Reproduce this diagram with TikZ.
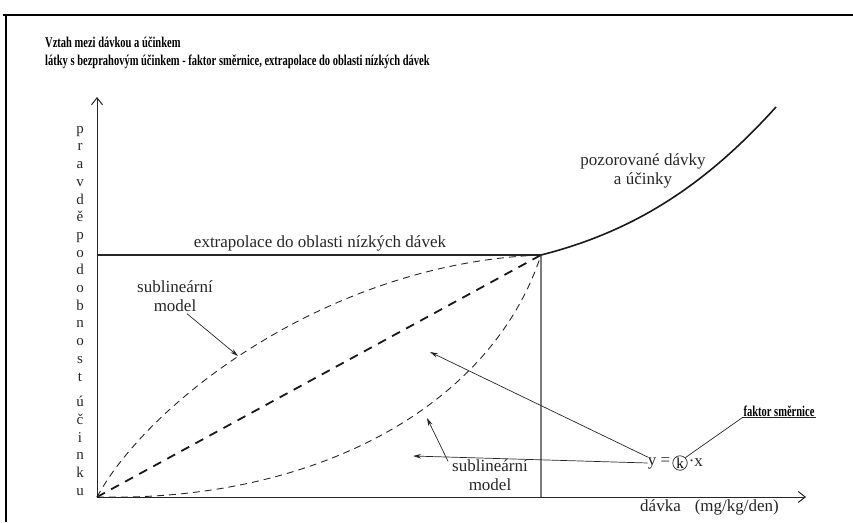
\documentclass[tikz,border=0pt]{standalone}
\usepackage{fontspec}
\setmainfont{Liberation Serif}
\newfontfamily\condbold{Liberation Serif Bold}[FakeStretch=0.7]
\usetikzlibrary{arrows.meta, positioning, calc}
\definecolor{axisgray}{RGB}{125,125,125}

\begin{document}
\begin{tikzpicture}[
        x = 1pt, y = -1pt,
        axis/.style = {draw=black!85, line width=1pt, -{Straight Barb[length=7pt, width=11pt, line width=1pt]}},
        titletext/.style = {font=\condbold\fontsize{15}{17}\selectfont, inner sep=0pt, anchor=west},
        labeltext/.style = {font=\fontsize{17}{19}\selectfont, inner sep=0pt, align=center, text=black!85},
        thindash/.style = {draw=black!85, line width=0.9pt, dash pattern=on 7pt off 5pt},
        thickdash/.style = {draw=black!90, line width=1.8pt, dash pattern=on 9pt off 7pt},
        pointer/.style = {draw=black!85, line width=0.7pt, -{Stealth[length=8pt, width=4.5pt]}}
    ]
        \useasboundingbox (0,0) rectangle (853,522);

        % Frame
        \draw [line width=1.2pt] (3,15) -- (853,15);
        \draw [line width=1.2pt] (6,15) -- (6,522);

        % Title
        \node (title1) [titletext] at (45,42) {Vztah mezi dávkou a účinkem};
        \node (title2) [titletext] at (45,62) {látky s bezprahovým účinkem - faktor směrnice, extrapolace do oblasti nízkých dávek};

        % Axes
        \coordinate (origin) at (97,497);
        \coordinate (ytip) at (97,97);
        \coordinate (xtip) at (806,497);
        \draw [axis] (origin) -- (ytip);
        \draw [axis] (origin) -- (xtip);

        \node (ylabel) [font=\fontsize{15}{17.7}\selectfont, align=center, inner sep=0pt, anchor=north, text=black!85] at (80,126)
            {p\\r\\a\\v\\d\\ě\\p\\o\\d\\o\\b\\n\\o\\s\\t\\[8pt]ú\\č\\i\\n\\k\\u};
        \node (xlabel) [labeltext, anchor=west] at (640,507) {dávka\hspace{14pt}(mg/kg/den)};

        % Extrapolation level
        \coordinate (meet) at (541,255);
        \coordinate (ylevel) at (97,255);
        \coordinate (meetfoot) at (541,497);
        \draw [line width=1.2pt, black!85] (ylevel) -- (meet);
        \draw [line width=1.2pt, axisgray] (meet) -- (meetfoot);
        \node (extra) [labeltext] at (320,243) {extrapolace do oblasti nízkých dávek};

        % Observed doses
        \coordinate (obsend) at (776,107);
        \draw [line width=1.6pt, black!90] (meet) .. controls (640,230) and (710,180) .. (obsend);
        \node (observed) [labeltext] at (643,171) {pozorované dávky\\a účinky};

        % Models
        \draw [thindash] (origin) .. controls (150,400) and (330,263) .. (meet);
        \draw [thickdash] (origin) -- (meet);
        \draw [thindash] (origin) .. controls (310,502) and (490,410) .. (meet);

        \node (subupper) [labeltext] at (175,296) {sublineární\\model};
        \node (sublower) [labeltext] at (490,475) {sublineární\\model};
        \draw [pointer] (subupper.south) ++(12,2) -- (238,356);
        \draw [pointer] (sublower.north west) ++(-4,2) -- (427,418);

        % Slope factor
        \node (kcirc) [circle, draw=black!85, line width=0.7pt, inner sep=0.6pt, font=\fontsize{15}{16}\selectfont] at (680,463) {k};
        \node (yeq) [labeltext, left=2pt of kcirc] {y =};
        \node (dotx) [labeltext, right=1pt of kcirc] {·x};
        \node (faktor) [font=\condbold\fontsize{15}{17}\selectfont, inner sep=1pt] at (779,411) {faktor směrnice};
        \draw [line width=0.8pt, black!85] (faktor.south west) -- (faktor.south east);
        \draw [line width=0.7pt, black!85] (kcirc.north east) -- (faktor.south west);
        \draw [pointer] (yeq.north west) -- (430,352);
        \draw [pointer] (yeq.west) -- (413,456);

    \end{tikzpicture}
\end{document}
